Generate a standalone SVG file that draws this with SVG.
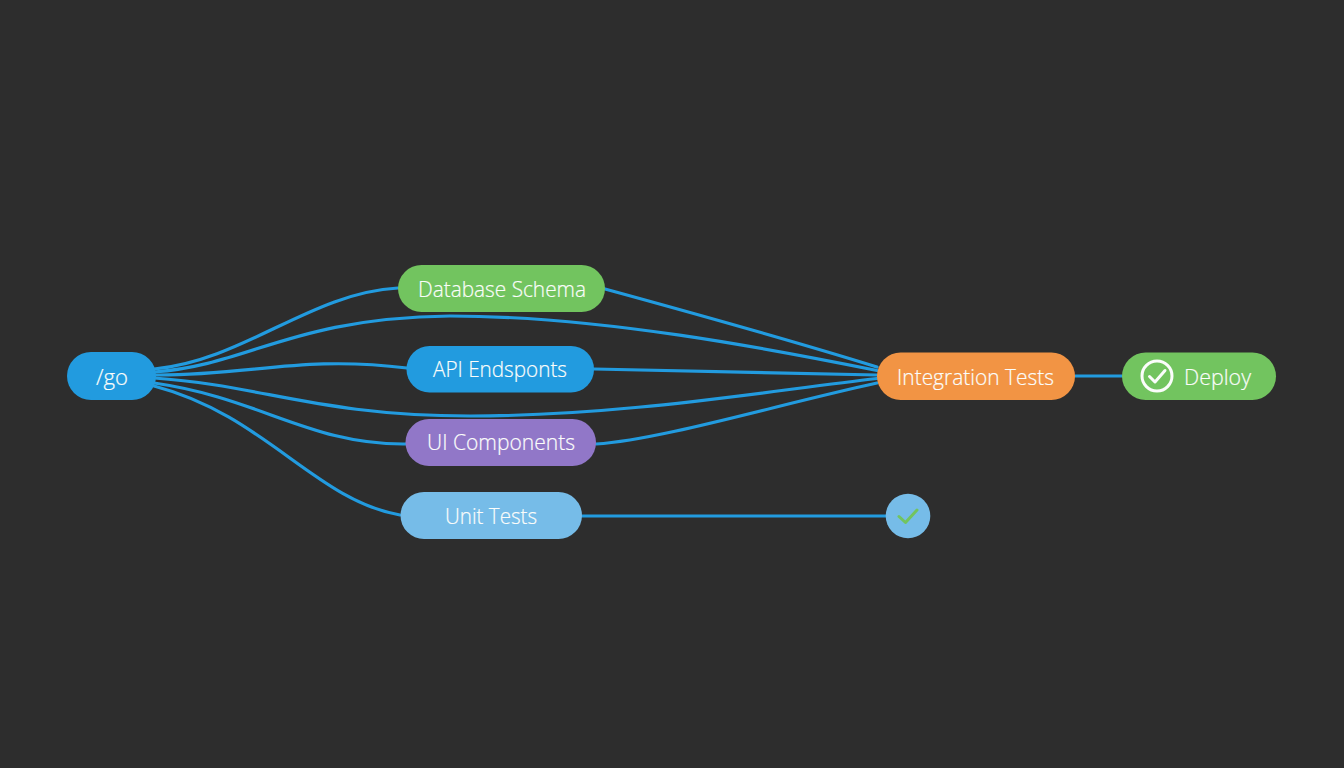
<svg xmlns="http://www.w3.org/2000/svg" width="1344" height="768" viewBox="0 0 1344 768">
<style>
.edge{fill:none;stroke:#229bdf;stroke-width:3.2;stroke-linecap:round}
text{font-family:"Open Sans","Noto Sans","Liberation Sans",sans-serif;font-size:22px;font-weight:300;fill:#fbfdfb;text-anchor:middle;stroke:#fbfdfb;stroke-width:0.2}
</style>
<rect width="1344" height="768" fill="#2d2d2d"/>
<g id="connectors">
<path class="edge" d="M154 369C245 360 310 293 398 288"/>
<path class="edge" d="M154 372C250 365 290 318 450 316C600 316 770 349 877 370.500"/>
<path class="edge" d="M154 375C250 376 300 355 407 368"/>
<path class="edge" d="M154 378C260 385 320 416 470 416C620 416 760 392 877 378.500"/>
<path class="edge" d="M154 383C260 398 310 445 406 444"/>
<path class="edge" d="M154 386C265 415 315 500 400 515"/>
<path class="edge" d="M605 289C700 315 800 343 877 367"/>
<path class="edge" d="M594 369L877 375"/>
<path class="edge" d="M596 444C660 440 780 404 877 383"/>
<path class="edge" d="M582 516L886 516"/>
<path class="edge" d="M1075 376L1122 376"/>
</g>
<g id="node-go"><rect x="67" y="352" width="89" height="48" rx="24" fill="#229bdf"/><text x="112" y="384.500" textLength="32" lengthAdjust="spacingAndGlyphs">/go</text></g>
<g id="node-database-schema"><rect x="398" y="265" width="207" height="47" rx="23.5" fill="#72c45f"/><text x="502" y="296.500" textLength="168" lengthAdjust="spacingAndGlyphs">Database Schema</text></g>
<g id="node-api-endsponts"><rect x="406.500" y="346" width="187.500" height="46.500" rx="23" fill="#229bdf"/><text x="500" y="376.500" textLength="134" lengthAdjust="spacingAndGlyphs">API Endsponts</text></g>
<g id="node-ui-components"><rect x="405.500" y="419" width="190.500" height="47" rx="23.500" fill="#9177c8"/><text x="501" y="450" textLength="148" lengthAdjust="spacingAndGlyphs">UI Components</text></g>
<g id="node-unit-tests"><rect x="400.500" y="492" width="181.500" height="47" rx="23.500" fill="#76bce8"/><text x="491" y="523.500" textLength="92" lengthAdjust="spacingAndGlyphs">Unit Tests</text></g>
<g id="node-integration-tests"><rect x="877" y="352.500" width="198" height="47.500" rx="23.700" fill="#f29444"/><text x="975.500" y="384.500" textLength="157" lengthAdjust="spacingAndGlyphs">Integration Tests</text></g>
<g id="node-deploy"><rect x="1122" y="352.500" width="154" height="47.500" rx="23.700" fill="#72c45f"/><circle cx="1157" cy="376" r="15" fill="none" stroke="#fbfdfb" stroke-width="3"/><path d="M1149.500 376.500L1155 382L1165 370.500" fill="none" stroke="#fbfdfb" stroke-width="3" stroke-linecap="round" stroke-linejoin="round"/><text x="1217.500" y="384.500" textLength="67" lengthAdjust="spacingAndGlyphs">Deploy</text></g>
<g id="node-check"><circle cx="908" cy="516" r="22.300" fill="#76bce8"/><path d="M899 516.500L905.500 522.500L917 510" fill="none" stroke="#72c45f" stroke-width="3" stroke-linecap="round" stroke-linejoin="round"/></g>
</svg>
